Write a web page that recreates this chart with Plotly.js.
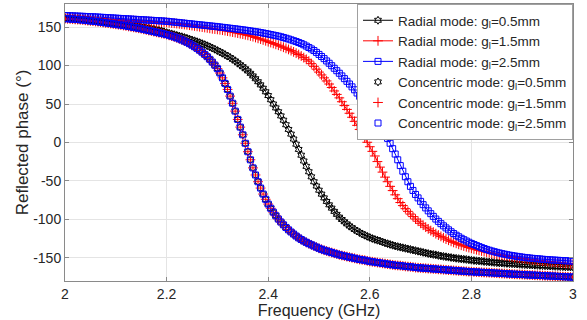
<!DOCTYPE html>
<html>
<head>
<meta charset="utf-8">
<script src="https://cdn.plot.ly/plotly-3.0.1.min.js"></script>
<style>
html,body{margin:0;padding:0;background:#fff;}
#chart{width:587px;height:320px;}
</style>
</head>
<body>
<div id="chart"></div>
<script>
// Frequency samples (GHz)
const freq = [
2.000,2.005,2.010,2.015,2.020,2.025,2.030,2.035,2.040,2.045,
2.050,2.055,2.060,2.065,2.070,2.075,2.080,2.085,2.090,2.095,
2.100,2.105,2.110,2.115,2.120,2.125,2.130,2.135,2.140,2.145,
2.150,2.155,2.160,2.165,2.170,2.175,2.180,2.185,2.190,2.195,
2.200,2.205,2.210,2.215,2.220,2.225,2.230,2.235,2.240,2.245,
2.250,2.255,2.260,2.265,2.270,2.275,2.280,2.285,2.290,2.295,
2.300,2.305,2.310,2.315,2.320,2.325,2.330,2.335,2.340,2.345,
2.350,2.355,2.360,2.365,2.370,2.375,2.380,2.385,2.390,2.395,
2.400,2.405,2.410,2.415,2.420,2.425,2.430,2.435,2.440,2.445,
2.450,2.455,2.460,2.465,2.470,2.475,2.480,2.485,2.490,2.495,
2.500,2.505,2.510,2.515,2.520,2.525,2.530,2.535,2.540,2.545,
2.550,2.555,2.560,2.565,2.570,2.575,2.580,2.585,2.590,2.595,
2.600,2.605,2.610,2.615,2.620,2.625,2.630,2.635,2.640,2.645,
2.650,2.655,2.660,2.665,2.670,2.675,2.680,2.685,2.690,2.695,
2.700,2.705,2.710,2.715,2.720,2.725,2.730,2.735,2.740,2.745,
2.750,2.755,2.760,2.765,2.770,2.775,2.780,2.785,2.790,2.795,
2.800,2.805,2.810,2.815,2.820,2.825,2.830,2.835,2.840,2.845,
2.850,2.855,2.860,2.865,2.870,2.875,2.880,2.885,2.890,2.895,
2.900,2.905,2.910,2.915,2.920,2.925,2.930,2.935,2.940,2.945,
2.950,2.955,2.960,2.965,2.970,2.975,2.980,2.985,2.990,2.995,
3.000];

// Radial mode, g_l = 0.5 mm
const radial05 = [
161.5,161.3,161,160.8,160.5,160.3,160,159.8,159.5,159.2,
158.8,158.5,158.1,157.8,157.4,157.1,156.7,156.4,156,155.6,
155.2,154.8,154.4,154,153.6,153.2,152.7,152.1,151.5,151,
150.5,149.9,149.3,148.7,148,147.3,146.6,145.8,145,144,
142.8,142,141.2,140.2,139.3,138.4,137.5,136.5,135.5,134.4,
133.3,132.2,131,129.8,128.5,127.2,125.8,124.3,122.7,121.1,
119.5,117.8,116,114.2,112.3,110.4,108.3,106,103.5,101,
98.5,95.8,93,89.9,86.5,82.9,79,74.9,70.5,65.9,
61,55.6,50,45,40,34.6,29,23.1,17,10.9,
4.5,-2.2,-9,-16.5,-24,-31,-38,-44.6,-51,-56.6,
-62,-67.1,-72,-76.6,-81,-85.3,-89.5,-93.4,-97,-100.1,
-103,-105.8,-108.5,-110.8,-113,-115.1,-117,-118.8,-120.5,-122,
-123.5,-124.8,-126,-127,-128,-129.3,-130.5,-131.5,-132.5,-133.5,
-134.5,-135.3,-136,-136.8,-137.5,-138.3,-139,-139.8,-140.5,-141.3,
-142,-142.8,-143.5,-144.3,-145,-145.5,-146,-146.8,-147.5,-148,
-148.5,-149,-149.5,-150,-150.5,-150.9,-151.3,-151.7,-152,-152.5,
-153,-153.4,-153.7,-154,-154.3,-154.7,-155,-155.3,-155.6,-155.9,
-156.2,-156.5,-156.7,-157,-157.2,-157.4,-157.6,-157.8,-158,-158.3,
-158.5,-158.7,-158.9,-159.1,-159.3,-159.5,-159.7,-159.9,-160,-160.2,
-160.4,-160.6,-160.8,-161,-161.1,-161.3,-161.4,-161.6,-161.7,-161.9,
-162];

// Radial mode, g_l = 1.5 mm
const radial15 = [
163,162.9,162.7,162.6,162.4,162.2,162,161.9,161.7,161.5,
161.3,161.2,161,160.8,160.6,160.5,160.3,160.1,159.9,159.8,
159.6,159.4,159.2,159.1,158.9,158.7,158.5,158.4,158.2,158,
157.8,157.6,157.4,157.3,157.1,156.9,156.7,156.6,156.4,156.2,
156,155.7,155.3,155,154.6,154.2,153.8,153.4,153,152.5,
152,151.5,151,150.5,150,149.5,149,148.4,147.8,147.4,
147,146.5,146,145.4,144.8,144.2,143.5,142.9,142.2,141.5,
140.8,140.1,139.3,138.5,137.6,136.5,135.4,134.4,133.3,132.2,
131,129.9,128.8,127.6,126.4,125.1,123.8,122.4,121,119.4,
117.8,116.1,114.3,112.4,110.3,108.1,105.8,102.5,99,95.3,
91.5,87.8,84,80,76,71.5,67,62.5,58,53,
48,43,38,32.8,27.5,22.3,17,11.5,6,0.3,
-5.5,-11.5,-17.5,-24.8,-32,-38.5,-45,-51,-57,-62.5,
-68,-73,-78,-82,-86,-89.5,-93,-96.3,-99.5,-102.3,
-105,-107.5,-110,-112.3,-114.5,-116.5,-118.5,-120.3,-122,-123.8,
-125.5,-127,-128.5,-129.8,-131,-132.3,-133.5,-134.5,-135.5,-136.5,
-137.5,-138.4,-139.3,-140.2,-141,-141.8,-142.5,-143.3,-144,-144.7,
-145.3,-145.9,-146.5,-147.1,-147.7,-148.3,-148.8,-149.3,-149.8,-150.3,
-150.7,-151.2,-151.6,-152,-152.4,-152.8,-153.2,-153.6,-154,-154.4,
-154.7,-155.1,-155.4,-155.7,-156,-156.4,-156.7,-157,-157.3,-157.7,
-158];

// Radial mode, g_l = 2.5 mm
const radial25 = [
165,164.9,164.7,164.6,164.4,164.3,164.1,164,163.8,163.7,
163.5,163.4,163.2,163,162.8,162.6,162.4,162.2,162,161.8,
161.6,161.4,161.2,161,160.8,160.6,160.4,160.2,160,159.8,
159.6,159.4,159.2,159,158.8,158.6,158.4,158.2,158,157.8,
157.5,157.2,156.8,156.5,156.1,155.8,155.4,155.1,154.7,154.4,
154,153.7,153.3,153,152.6,152.3,151.9,151.6,151.2,150.9,
150.5,150.1,149.7,149.3,148.9,148.5,148.1,147.7,147.3,146.9,
146.4,146,145.5,145,144.5,144,143.5,142.9,142.3,141.7,
141,140.3,139.6,138.9,138.2,137.4,136.5,135.5,134.5,133.4,
132.3,131.2,130,128.6,127,125.3,123.5,121.6,119.5,117.1,
114.5,111.8,109,106,103,99.8,96.5,93.3,90,86.5,
83,79.5,76,72.3,68.5,64.3,60,55.8,51.5,47.3,
43,38.3,33.5,28.3,23,17.3,11.5,5.3,-1,-8,
-15,-22.5,-30,-37.3,-44.5,-51,-57,-62.3,-67.5,-72,
-76.5,-80.8,-85,-88.8,-92.5,-96,-99.5,-102.5,-105.5,-108.3,
-111,-113.5,-116,-118.3,-120.5,-122.5,-124.5,-126.3,-128,-129.6,
-131.2,-132.6,-134,-135.3,-136.6,-137.8,-139,-140,-141,-141.9,
-142.8,-143.6,-144.4,-145.1,-145.8,-146.4,-147,-147.5,-148,-148.5,
-149,-149.4,-149.8,-150.2,-150.5,-150.8,-151.1,-151.4,-151.7,-152,
-152.2,-152.5,-152.7,-152.9,-153.1,-153.3,-153.5,-153.7,-153.8,-154,
-154.2];

// Concentric mode (the three g_l curves coincide in the picture)
const concentric05 = [
161,160.8,160.5,160.3,160,159.8,159.5,159.2,158.8,158.4,
158,157.7,157.3,156.9,156.5,156,155.5,155.1,154.6,154.1,
153.6,153.1,152.6,152.1,151.5,150.9,150.3,149.7,149.1,148.5,
147.8,147.1,146.3,145.6,144.8,144.1,143.3,142.6,141.8,141.1,
140.3,139.3,138.3,137.2,136,134.7,133.3,131.8,130.3,128.5,
126.5,124.5,122.3,119.9,117.3,114.5,111.5,108.1,104.5,100.5,
96,90.3,84,76.8,69,60.3,51,40.8,30,20,
10,-1,-12,-22.5,-33,-42.2,-51,-59.2,-67,-73.8,
-80,-85.5,-90.5,-95.2,-99.5,-103.4,-107,-110.4,-113.5,-116.3,
-119,-121.6,-124,-126.1,-128,-129.8,-131.5,-133,-134.5,-136,
-137.5,-138.8,-140,-141,-142,-143,-144,-145,-146,-146.8,
-147.5,-148.3,-149,-149.8,-150.5,-151.3,-152,-152.5,-153,-153.8,
-154.5,-155,-155.5,-156,-156.5,-157,-157.5,-158,-158.5,-159,
-159.5,-159.8,-160,-160.5,-161,-161.3,-161.5,-162,-162.5,-162.8,
-163,-163.3,-163.5,-163.8,-164,-164.3,-164.5,-164.8,-165,-165.3,
-165.5,-165.8,-166,-166.3,-166.5,-166.8,-167,-167.3,-167.5,-167.8,
-168,-168.2,-168.3,-168.5,-168.7,-168.9,-169,-169.2,-169.4,-169.6,
-169.8,-170,-170.2,-170.4,-170.6,-170.8,-171,-171.2,-171.3,-171.5,
-171.6,-171.8,-172,-172.2,-172.3,-172.5,-172.6,-172.8,-173,-173.2,
-173.3,-173.5,-173.6,-173.8,-174,-174.2,-174.3,-174.5,-174.6,-174.8,
-175];
const concentric15 = concentric05;
const concentric25 = concentric05;

const seriesNames = [
  'Radial mode: g<sub>l</sub>=0.5mm',
  'Radial mode: g<sub>l</sub>=1.5mm',
  'Radial mode: g<sub>l</sub>=2.5mm',
  'Concentric mode: g<sub>l</sub>=0.5mm',
  'Concentric mode: g<sub>l</sub>=1.5mm',
  'Concentric mode: g<sub>l</sub>=2.5mm'
];
const xTicks = [2, 2.2, 2.4, 2.6, 2.8, 3];
const xTickText = ['2', '2.2', '2.4', '2.6', '2.8', '3'];
const yTicks = [-150, -100, -50, 0, 50, 100, 150];
const yTickText = ['-150', '-100', '-50', '0', '50', '100', '150'];

const BLACK = '#000000', RED = '#ff0000', BLUE = '#0000ff';

function mk(symbol, color, size) {
  return {symbol: symbol, size: size, color: color, line: {color: color, width: 1}};
}

const traces = [
  {x: freq, y: radial05, name: seriesNames[0], legendgroup: 'g1', mode: 'lines+markers',
   line: {color: BLACK, width: 1}, marker: mk('hexagram-open', BLACK, 6)},
  {x: freq, y: radial15, name: seriesNames[1], legendgroup: 'g2', mode: 'lines+markers',
   line: {color: RED, width: 1}, marker: mk('cross-thin-open', RED, 7)},
  {x: freq, y: radial25, name: seriesNames[2], legendgroup: 'g3', mode: 'lines+markers',
   line: {color: BLUE, width: 1}, marker: mk('square-open', BLUE, 6)},
  {x: freq, y: concentric05, name: seriesNames[3], legendgroup: 'g4', mode: 'markers',
   marker: mk('hexagram-open', BLACK, 6)},
  {x: freq, y: concentric15, name: seriesNames[4], legendgroup: 'g5', mode: 'markers',
   marker: mk('cross-thin-open', RED, 7)},
  {x: freq, y: concentric25, name: seriesNames[5], legendgroup: 'g6', mode: 'markers',
   marker: mk('square-open', BLUE, 6)}
];

const FONT = 'Liberation Sans, Arial, sans-serif';
const axisCommon = {
  showgrid: true, gridcolor: '#e4e4e4', gridwidth: 1,
  zeroline: false, showline: true, linecolor: '#8a8a8a', linewidth: 1,
  mirror: 'ticks', ticks: 'inside', ticklen: 4, tickcolor: '#8a8a8a',
  tickfont: {family: FONT, size: 14, color: '#262626'},
  automargin: false
};

const layout = {
  width: 587, height: 320,
  margin: {l: 65, r: 14, t: 4, b: 39},
  paper_bgcolor: '#ffffff', plot_bgcolor: '#ffffff',
  font: {family: FONT, color: '#262626'},
  showlegend: true,
  xaxis: Object.assign({}, axisCommon, {
    range: [2, 3], tickmode: 'array', tickvals: xTicks, ticktext: xTickText,
    title: {text: 'Frequency (GHz)', font: {family: FONT, size: 16, color: '#262626'}, standoff: 0}
  }),
  yaxis: Object.assign({}, axisCommon, {
    range: [-180, 180], tickmode: 'array', tickvals: yTicks, ticktext: yTickText,
    title: {text: 'Reflected phase (°)', font: {family: FONT, size: 17, color: '#262626'}, standoff: 0}
  }),
  legend: {
    x: 1, xanchor: 'right', y: 1, yanchor: 'top',
    bgcolor: '#ffffff', bordercolor: '#a0a0a0', borderwidth: 1,
    font: {family: FONT, size: 13.5, color: '#262626'},
    itemwidth: 30, traceorder: 'grouped', tracegroupgap: 0
  }
};

Plotly.newPlot('chart', traces, layout, {displayModeBar: false, staticPlot: true});
</script>
</body>
</html>
